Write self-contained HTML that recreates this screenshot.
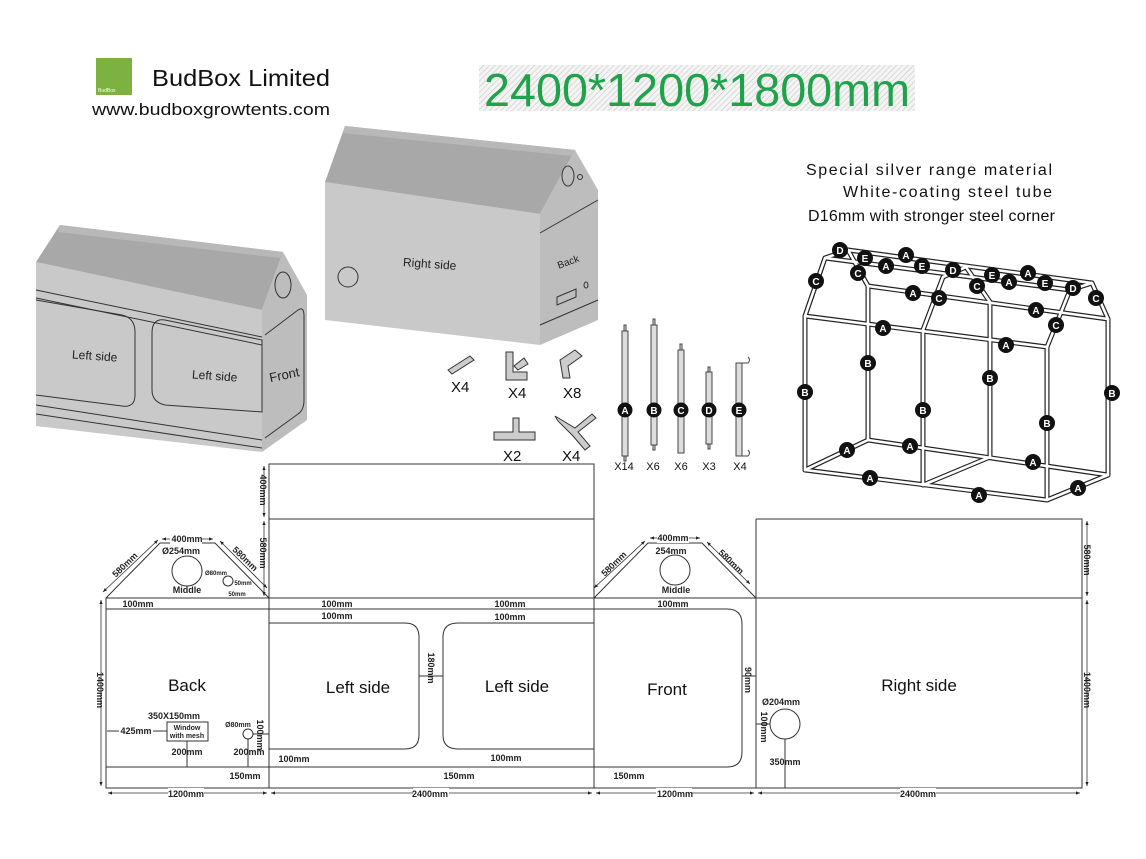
<!DOCTYPE html>
<html><head><meta charset="utf-8"><style>
html,body{margin:0;padding:0;background:#fff;}
svg{display:block;font-family:"Liberation Sans",Arial,sans-serif;}
.d{font-size:9px;font-weight:bold;fill:#222;}
.L{font-size:17px;fill:#111;}
</style></head><body>
<svg width="1146" height="859" viewBox="0 0 1146 859" xmlns="http://www.w3.org/2000/svg">
<defs>
<pattern id="h" width="4" height="4" patternUnits="userSpaceOnUse" patternTransform="rotate(45)"><rect width="4" height="4" fill="#f4f4f4"/><line x1="0" y1="0" x2="0" y2="4" stroke="#c8c8c8" stroke-width="1.2"/></pattern>
<marker id="ar" markerWidth="6" markerHeight="6" refX="5" refY="3" orient="auto-start-reverse"><path d="M0,1 L5,3 L0,5z" fill="#222"/></marker>
</defs>
<!-- header -->
<rect x="96" y="58" width="36" height="37" fill="#7db243"/>
<text x="98" y="92" font-size="5" fill="#fff">BudBox</text>
<text x="152" y="86" font-size="23" fill="#111" textLength="178" lengthAdjust="spacingAndGlyphs">BudBox Limited</text>
<text x="92" y="115" font-size="17" fill="#111" textLength="238" lengthAdjust="spacingAndGlyphs">www.budboxgrowtents.com</text>
<rect x="479" y="65" width="436" height="46" fill="url(#h)"/>
<text x="484" y="106" font-size="46" fill="#1fa24a" textLength="426" lengthAdjust="spacingAndGlyphs">2400*1200*1800mm</text>
<text x="806" y="175" font-size="16" fill="#111" textLength="246" lengthAdjust="spacing">Special silver range material</text>
<text x="843" y="197" font-size="16" fill="#111" textLength="209" lengthAdjust="spacing">White-coating steel tube</text>
<text x="808" y="221" font-size="16" fill="#111" textLength="247" lengthAdjust="spacing">D16mm with stronger steel corner</text>

<!-- left tent -->
<g stroke="#333" stroke-width="1">
<polygon points="36,262 262,310 262,452 36,426" fill="#c9c9c9" stroke="none"/>
<polygon points="36,262 60,225 283,252 262,310" fill="#a8a8a8" stroke="none"/>
<polygon points="60,225 283,252 280,258 58,232" fill="#b8b8b8" stroke="none"/>
<polygon points="262,310 283,252 307,295 307,420 262,452" fill="#bdbdbd" stroke="none"/>
<line x1="36" y1="290" x2="262" y2="337" fill="none"/>
<line x1="36" y1="298" x2="262" y2="345" fill="none"/>
<line x1="36" y1="405" x2="262" y2="440" fill="none"/>
<line x1="36" y1="414" x2="262" y2="448" fill="none"/>
<path d="M36,300 L122,315 Q135,318 135,332 L135,395 Q135,408 122,406 L36,395" fill="none"/>
<path d="M165,320 L262,340 L262,412 L165,405 Q152,402 152,390 L152,333 Q152,318 165,320Z" fill="none"/>
<path d="M265,335 L298,310 Q304,306 304,316 L304,400 Q304,410 298,414 L265,438" fill="none"/>
<ellipse cx="283" cy="285" rx="8" ry="13" fill="none"/>
</g>
<text x="72" y="360" font-size="12" fill="#222" transform="rotate(4 95 356)">Left side</text>
<text x="192" y="380" font-size="12" fill="#222" transform="rotate(4 215 376)">Left side</text>
<text x="268" y="380" font-size="13" fill="#222" transform="rotate(-12 280 370)">Front</text>

<!-- right tent -->
<g stroke="#333" stroke-width="1">
<polygon points="325,182 540,214 540,345 325,320" fill="#c9c9c9" stroke="none"/>
<polygon points="325,182 345,126 575,150 540,214" fill="#a8a8a8" stroke="none"/>
<polygon points="345,126 575,150 572,156 343,133" fill="#b8b8b8" stroke="none"/>
<polygon points="540,214 575,150 598,190 598,320 540,345" fill="#bdbdbd" stroke="none"/>
<line x1="540" y1="233" x2="598" y2="200" fill="none"/>
<line x1="540" y1="325" x2="598" y2="300" fill="none"/>
<ellipse cx="568" cy="176" rx="6" ry="10" fill="none"/>
<circle cx="580" cy="177" r="2.5" fill="none"/>
<circle cx="348" cy="277" r="10" fill="none"/>
<polygon points="557,297 576,289 576,297 557,305" fill="none"/>
<ellipse cx="586" cy="285" rx="2" ry="3" fill="none"/>
</g>
<text x="403" y="268" font-size="12" fill="#222" transform="rotate(4 430 264)">Right side</text>
<text x="557" y="266" font-size="10" fill="#222" transform="rotate(-20 566 262)">Back</text>

<!-- fittings -->
<g stroke="#333" stroke-width="1" fill="#ccc">
<path d="M448,370 L470,356 L474,360 L452,374Z"/>
<path d="M506,352 L513,352 L513,372 L527,372 L527,380 L506,380Z"/>
<path d="M514,366 L524,358 L528,364 L518,370Z"/>
<path d="M560,360 L575,350 L582,356 L568,366 L570,378 L563,378Z"/>
<path d="M494,432 L513,432 L513,418 L519,418 L519,432 L535,432 L535,440 L494,440Z"/>
<path d="M555,416 L575,428 L592,414 L596,418 L578,432 L590,446 L585,450 L573,436 L558,421Z"/>
</g>
<g font-size="15" fill="#111">
<text x="451" y="392">X4</text><text x="508" y="398">X4</text><text x="563" y="398">X8</text>
<text x="503" y="461">X2</text><text x="562" y="461">X4</text>
</g>

<!-- poles -->
<g stroke="#444" stroke-width="1" fill="#ddd">
<rect x="622" y="331" width="6" height="125"/><rect x="624" y="325" width="2" height="6"/><rect x="624" y="456" width="2" height="5"/>
<rect x="651" y="325" width="6" height="120"/><rect x="653" y="319" width="2" height="6"/><rect x="653" y="445" width="2" height="5"/>
<rect x="678" y="350" width="6" height="103"/><rect x="680" y="344" width="2" height="6"/>
<rect x="706" y="372" width="6" height="72"/><rect x="708" y="367" width="2" height="5"/><rect x="708" y="444" width="2" height="5"/>
<rect x="736" y="363" width="6" height="93"/>
<path d="M742,363 L748,363 Q751,360 748,357" fill="none"/><path d="M742,456 L748,456 Q751,453 748,450" fill="none"/>
</g>
<g font-size="10" font-weight="bold" fill="#fff" text-anchor="middle">
<circle cx="625" cy="410" r="7.5" fill="#111"/><text x="625" y="414">A</text>
<circle cx="654" cy="410" r="7.5" fill="#111"/><text x="654" y="414">B</text>
<circle cx="681" cy="410" r="7.5" fill="#111"/><text x="681" y="414">C</text>
<circle cx="709" cy="410" r="7.5" fill="#111"/><text x="709" y="414">D</text>
<circle cx="739" cy="410" r="7.5" fill="#111"/><text x="739" y="414">E</text>
</g>
<g font-size="11" fill="#111" text-anchor="middle">
<text x="624" y="470">X14</text><text x="653" y="470">X6</text><text x="681" y="470">X6</text><text x="709" y="470">X3</text><text x="740" y="470">X4</text>
</g>

<!-- frame -->
<g fill="none" stroke-linecap="round" stroke-linejoin="round" stroke="#222" stroke-width="5">
<polyline points="805,470 868,440 1108,475 1047,500 805,470"/><line x1="923" y1="485" x2="990" y2="457"/>
<line x1="805" y1="470" x2="805" y2="316"/><line x1="1047" y1="500" x2="1047" y2="347"/>
<line x1="868" y1="440" x2="868" y2="286"/><line x1="1108" y1="475" x2="1108" y2="319"/>
<line x1="923" y1="485" x2="923" y2="330"/><line x1="990" y1="457" x2="990" y2="302"/>
<line x1="805" y1="316" x2="1047" y2="347"/><line x1="868" y1="286" x2="1108" y2="319"/>
<polyline points="805,316 825,258 848,250 868,286"/><polyline points="923,330 943,277 966,267 990,302"/><polyline points="1047,347 1070,290 1092,283 1108,319"/>
<line x1="825" y1="258" x2="1070" y2="290"/><line x1="848" y1="250" x2="1092" y2="283"/>
</g>
<g fill="none" stroke-linecap="round" stroke-linejoin="round" stroke="#fff" stroke-width="2.6">
<polyline points="805,470 868,440 1108,475 1047,500 805,470"/><line x1="923" y1="485" x2="990" y2="457"/>
<line x1="805" y1="470" x2="805" y2="316"/><line x1="1047" y1="500" x2="1047" y2="347"/>
<line x1="868" y1="440" x2="868" y2="286"/><line x1="1108" y1="475" x2="1108" y2="319"/>
<line x1="923" y1="485" x2="923" y2="330"/><line x1="990" y1="457" x2="990" y2="302"/>
<line x1="805" y1="316" x2="1047" y2="347"/><line x1="868" y1="286" x2="1108" y2="319"/>
<polyline points="805,316 825,258 848,250 868,286"/><polyline points="923,330 943,277 966,267 990,302"/><polyline points="1047,347 1070,290 1092,283 1108,319"/>
<line x1="825" y1="258" x2="1070" y2="290"/><line x1="848" y1="250" x2="1092" y2="283"/>
</g>
<g font-size="10" font-weight="bold" fill="#fff" text-anchor="middle">
<g fill="#111">
<circle cx="840" cy="250" r="8"/><circle cx="865" cy="258" r="8"/><circle cx="906" cy="255" r="8"/><circle cx="886" cy="266" r="8"/><circle cx="922" cy="266" r="8"/><circle cx="953" cy="270" r="8"/><circle cx="858" cy="273" r="8"/><circle cx="816" cy="281" r="8"/><circle cx="977" cy="286" r="8"/><circle cx="992" cy="275" r="8"/><circle cx="1028" cy="273" r="8"/><circle cx="1009" cy="282" r="8"/><circle cx="1045" cy="283" r="8"/><circle cx="1073" cy="288" r="8"/><circle cx="1096" cy="298" r="8"/><circle cx="913" cy="293" r="8"/><circle cx="939" cy="298" r="8"/><circle cx="1036" cy="310" r="8"/><circle cx="1056" cy="325" r="8"/><circle cx="883" cy="328" r="8"/><circle cx="1006" cy="345" r="8"/><circle cx="868" cy="363" r="8"/><circle cx="990" cy="378" r="8"/><circle cx="805" cy="392" r="8"/><circle cx="1112" cy="393" r="8"/><circle cx="923" cy="410" r="8"/><circle cx="1047" cy="423" r="8"/><circle cx="847" cy="450" r="8"/><circle cx="910" cy="446" r="8"/><circle cx="1033" cy="462" r="8"/><circle cx="870" cy="478" r="8"/><circle cx="979" cy="495" r="8"/><circle cx="1078" cy="488" r="8"/>
</g>
<text x="840" y="254">D</text><text x="865" y="262">E</text><text x="906" y="259">A</text><text x="886" y="270">A</text><text x="922" y="270">E</text><text x="953" y="274">D</text><text x="858" y="277">C</text><text x="816" y="285">C</text><text x="977" y="290">C</text><text x="992" y="279">E</text><text x="1028" y="277">A</text><text x="1009" y="286">A</text><text x="1045" y="287">E</text><text x="1073" y="292">D</text><text x="1096" y="302">C</text><text x="913" y="297">A</text><text x="939" y="302">C</text><text x="1036" y="314">A</text><text x="1056" y="329">C</text><text x="883" y="332">A</text><text x="1006" y="349">A</text><text x="868" y="367">B</text><text x="990" y="382">B</text><text x="805" y="396">B</text><text x="1112" y="397">B</text><text x="923" y="414">B</text><text x="1047" y="427">B</text><text x="847" y="454">A</text><text x="910" y="450">A</text><text x="1033" y="466">A</text><text x="870" y="482">A</text><text x="979" y="499">A</text><text x="1078" y="492">A</text>
</g>

<!-- flat layout -->
<g fill="none" stroke="#333" stroke-width="1">
<rect x="269" y="464" width="325" height="134"/>
<line x1="269" y1="519" x2="594" y2="519"/>
<rect x="106" y="598" width="976" height="190"/>
<line x1="269" y1="598" x2="269" y2="788"/><line x1="594" y1="598" x2="594" y2="788"/><line x1="756" y1="519" x2="756" y2="788"/>
<polyline points="756,519 1082,519 1082,598"/>
<line x1="106" y1="609" x2="594" y2="609"/>
<line x1="106" y1="767" x2="594" y2="767"/>
<polyline points="106,598 160,543 215,543 269,598"/>
<polyline points="594,598 648,543 702,543 756,598"/>
<path d="M269,623 L405,623 Q419,623 419,637 L419,735 Q419,749 405,749 L269,749"/>
<path d="M594,623 L458,623 Q443,623 443,637 L443,735 Q443,749 458,749 L594,749"/>
<path d="M594,609 L727,609 Q742,609 742,624 L742,752 Q742,767 727,767 L594,767"/>
<circle cx="187" cy="571" r="15"/><circle cx="228" cy="581" r="5"/>
<rect x="167" y="722" width="41" height="19"/>
<circle cx="248" cy="734" r="5"/>
<circle cx="675" cy="570" r="15"/>
<circle cx="785" cy="724" r="15"/>
<line x1="785" y1="739" x2="785" y2="788"/>
<line x1="107" y1="731" x2="167" y2="731"/>
<line x1="187" y1="741" x2="187" y2="767"/>
<line x1="248" y1="739" x2="248" y2="767"/>
<line x1="253" y1="734" x2="269" y2="734"/>
<line x1="419" y1="676" x2="443" y2="676"/>
<line x1="742" y1="676" x2="756" y2="676"/>
<line x1="756" y1="724" x2="770" y2="724"/>
</g>
<g stroke="#333" stroke-width="0.8" fill="none" marker-start="url(#ar)" marker-end="url(#ar)">
<line x1="108" y1="793" x2="267" y2="793"/><line x1="271" y1="793" x2="592" y2="793"/>
<line x1="596" y1="793" x2="754" y2="793"/><line x1="758" y1="793" x2="1080" y2="793"/>
<line x1="101" y1="600" x2="101" y2="786"/>
<line x1="264" y1="466" x2="264" y2="517"/><line x1="264" y1="521" x2="264" y2="596"/>
<line x1="1087" y1="521" x2="1087" y2="596"/><line x1="1087" y1="600" x2="1087" y2="786"/>
<line x1="162" y1="539" x2="213" y2="539"/><line x1="650" y1="538" x2="700" y2="538"/>
<line x1="103" y1="592" x2="158" y2="540"/><line x1="220" y1="541" x2="267" y2="588"/>
<line x1="594" y1="588" x2="645" y2="541"/><line x1="707" y1="542" x2="750" y2="584"/>
</g>
<g class="d" text-anchor="middle">
<rect x="170" y="534" width="32" height="10" fill="#fff"/><text x="187" y="542">400mm</text>
<rect x="657" y="533" width="32" height="10" fill="#fff"/><text x="673" y="541">400mm</text>
<text x="181" y="554">Ø254mm</text><text x="671" y="554">254mm</text>
<text x="187" y="593">Middle</text><text x="676" y="593">Middle</text>
<text x="216" y="575" font-size="6">Ø80mm</text><text x="243" y="585" font-size="6">50mm</text><text x="237" y="596" font-size="6">50mm</text>
<text x="138" y="607">100mm</text><text x="337" y="607">100mm</text><text x="510" y="607">100mm</text><text x="673" y="607">100mm</text>
<text x="337" y="619">100mm</text><text x="510" y="620">100mm</text>
<text x="294" y="762">100mm</text><text x="506" y="761">100mm</text>
<text x="245" y="779">150mm</text><text x="459" y="779">150mm</text><text x="629" y="779">150mm</text>
<text x="174" y="719">350X150mm</text>
<text x="187" y="730" font-size="7">Window</text><text x="187" y="738" font-size="7">with mesh</text>
<rect x="119" y="726" width="34" height="10" fill="#fff"/><text x="136" y="734">425mm</text>
<text x="187" y="755">200mm</text><text x="249" y="755">200mm</text>
<text x="238" y="727" font-size="7">Ø80mm</text>
<text x="785" y="765">350mm</text>
<text x="781" y="705">Ø204mm</text>
<rect x="168" y="788" width="36" height="10" fill="#fff"/><text x="186" y="797">1200mm</text>
<rect x="413" y="788" width="36" height="10" fill="#fff"/><text x="430" y="797">2400mm</text>
<rect x="656" y="788" width="36" height="10" fill="#fff"/><text x="675" y="797">1200mm</text>
<rect x="900" y="788" width="36" height="10" fill="#fff"/><text x="918" y="797">2400mm</text>
<g fill="#222">
<text transform="translate(97 690) rotate(90)" >1400mm</text>
<text transform="translate(260 490) rotate(90)">400mm</text>
<text transform="translate(260 553) rotate(90)">580mm</text>
<text transform="translate(428 668) rotate(90)">180mm</text>
<text transform="translate(257 735) rotate(90)">100mm</text>
<text transform="translate(745 680) rotate(90)">90mm</text>
<text transform="translate(761 727) rotate(90)">100mm</text>
<text transform="translate(1084 560) rotate(90)">580mm</text>
<text transform="translate(1084 690) rotate(90)">1400mm</text>
<text transform="translate(127 567) rotate(-44)">580mm</text>
<text transform="translate(243 561) rotate(44)">580mm</text>
<text transform="translate(616 566) rotate(-44)">580mm</text>
<text transform="translate(729 564) rotate(44)">580mm</text>
</g>
</g>
<g class="L" text-anchor="middle">
<text x="187" y="691">Back</text><text x="358" y="693">Left side</text><text x="517" y="692">Left side</text>
<text x="667" y="695">Front</text><text x="919" y="691">Right side</text>
</g>
</svg>
</body></html>
